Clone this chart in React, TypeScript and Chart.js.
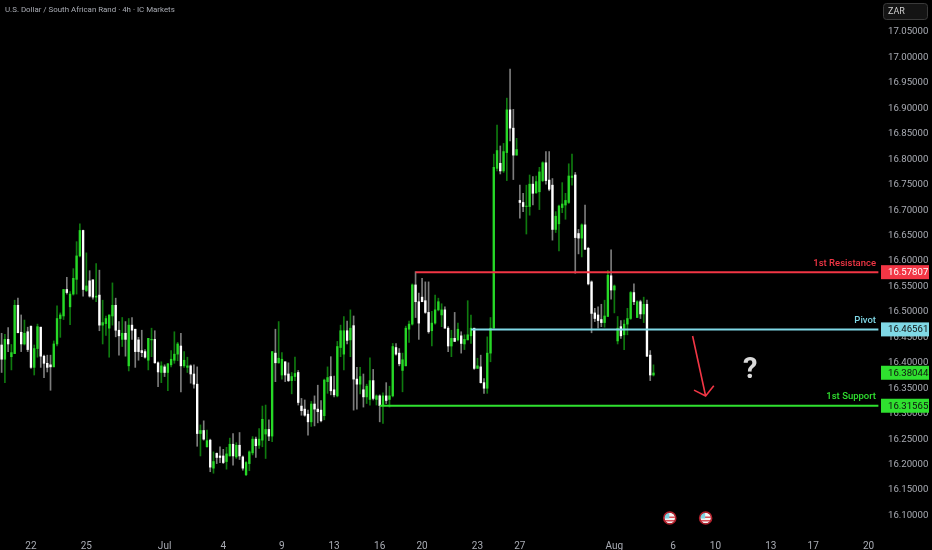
import React, { useEffect, useRef } from "react";
import { Chart, registerables } from "chart.js";

Chart.register(...registerables);

const highs = [
16.458,16.456,16.469,16.436,16.523,16.527,16.494,16.484,16.470,16.472,
16.435,16.476,16.470,16.415,16.415,16.415,16.443,16.512,16.498,16.544,
16.568,16.540,16.585,16.638,16.673,16.661,16.616,16.581,16.563,16.595,
16.582,16.523,16.492,16.494,16.557,16.527,16.481,16.489,16.481,16.487,
16.489,16.466,16.450,16.464,16.426,16.448,16.468,16.463,16.402,16.402,
16.396,16.399,16.424,16.461,16.440,16.458,16.422,16.411,16.396,16.396,
16.392,16.278,16.286,16.268,16.250,16.225,16.223,16.235,16.230,16.234,
16.252,16.261,16.243,16.263,16.217,16.206,16.227,16.255,16.254,16.271,
16.315,16.317,16.288,16.422,16.466,16.481,16.420,16.402,16.400,16.381,
16.411,16.385,16.330,16.327,16.307,16.324,16.335,16.356,16.326,16.368,
16.392,16.412,16.374,16.442,16.474,16.491,16.482,16.504,16.492,16.391,
16.391,16.378,16.358,16.410,16.387,16.337,16.337,16.341,16.361,16.354,
16.438,16.438,16.428,16.419,16.472,16.482,16.555,16.579,16.537,16.566,
16.559,16.559,16.501,16.533,16.527,16.516,16.510,16.471,16.464,16.499,
16.478,16.461,16.455,16.522,16.494,16.468,16.409,16.415,16.369,16.451,
16.489,16.810,16.867,16.826,16.831,16.920,16.977,16.898,16.841,16.749,
16.733,16.749,16.769,16.766,16.767,16.784,16.795,16.815,16.815,16.762,
16.697,16.710,16.754,16.733,16.791,16.810,16.774,16.662,16.673,16.710,
16.627,16.561,16.507,16.510,16.515,16.523,16.581,16.622,16.553,16.491,
16.483,16.484,16.507,16.540,16.555,16.522,16.523,16.529,16.523,16.424,16.396,
];

const opens = [
16.435,16.407,16.446,16.412,16.418,16.513,16.460,16.437,16.461,16.472,
16.391,16.428,16.470,16.413,16.399,16.396,16.392,16.437,16.487,16.492,
16.544,16.510,16.535,16.564,16.610,16.660,16.542,16.561,16.563,16.529,
16.533,16.474,16.477,16.468,16.492,16.513,16.464,16.446,16.458,16.394,
16.474,16.466,16.445,16.424,16.422,16.405,16.445,16.446,16.400,16.381,
16.392,16.381,16.396,16.405,16.417,16.433,16.394,16.391,16.394,16.378,
16.358,16.261,16.267,16.235,16.248,16.193,16.222,16.217,16.217,16.206,
16.217,16.240,16.215,16.238,16.215,16.180,16.202,16.223,16.250,16.238,
16.248,16.260,16.269,16.256,16.419,16.400,16.376,16.402,16.378,16.365,
16.373,16.381,16.315,16.309,16.299,16.284,16.319,16.309,16.307,16.296,
16.363,16.373,16.347,16.335,16.430,16.417,16.463,16.445,16.473,16.368,
16.358,16.347,16.333,16.328,16.365,16.328,16.335,16.316,16.335,16.328,
16.335,16.430,16.419,16.385,16.394,16.466,16.476,16.553,16.520,16.529,
16.522,16.499,16.463,16.478,16.504,16.494,16.504,16.468,16.433,16.448,
16.445,16.453,16.437,16.445,16.453,16.468,16.389,16.392,16.361,16.350,
16.419,16.468,16.782,16.792,16.777,16.813,16.897,16.861,16.808,16.719,
16.715,16.707,16.707,16.751,16.734,16.736,16.758,16.793,16.759,16.749,
16.662,16.673,16.705,16.710,16.715,16.764,16.769,16.654,16.645,16.671,
16.625,16.559,16.498,16.494,16.485,16.479,16.491,16.571,16.543,16.443,
16.471,16.455,16.476,16.487,16.538,16.489,16.520,16.496,16.515,16.415,16.376,
];

const closes = [
16.407,16.446,16.437,16.420,16.513,16.459,16.437,16.458,16.426,16.391,
16.428,16.471,16.413,16.399,16.391,16.392,16.437,16.487,16.494,16.544,
16.538,16.535,16.566,16.610,16.660,16.544,16.551,16.531,16.529,16.531,
16.474,16.479,16.487,16.494,16.513,16.464,16.453,16.458,16.446,16.474,
16.464,16.422,16.422,16.420,16.411,16.448,16.446,16.400,16.382,16.394,
16.381,16.398,16.407,16.417,16.437,16.394,16.405,16.394,16.378,16.358,
16.261,16.267,16.250,16.247,16.195,16.206,16.214,16.214,16.204,16.221,
16.240,16.217,16.238,16.217,16.193,16.204,16.225,16.250,16.237,16.250,
16.289,16.269,16.256,16.422,16.400,16.409,16.407,16.376,16.365,16.373,
16.379,16.322,16.306,16.297,16.284,16.319,16.309,16.304,16.286,16.366,
16.371,16.345,16.337,16.432,16.463,16.463,16.444,16.468,16.368,16.358,
16.373,16.333,16.354,16.365,16.330,16.335,16.316,16.335,16.326,16.335,
16.432,16.417,16.398,16.406,16.468,16.476,16.553,16.520,16.478,16.520,
16.499,16.461,16.478,16.504,16.520,16.504,16.468,16.433,16.448,16.442,
16.466,16.438,16.446,16.455,16.468,16.389,16.394,16.361,16.350,16.419,
16.468,16.784,16.817,16.777,16.815,16.897,16.861,16.808,16.819,16.715,
16.707,16.708,16.751,16.733,16.756,16.775,16.793,16.758,16.741,16.662,
16.688,16.708,16.712,16.719,16.767,16.767,16.646,16.645,16.671,16.623,
16.555,16.497,16.487,16.483,16.479,16.492,16.572,16.543,16.551,16.468,
16.453,16.476,16.487,16.538,16.520,16.520,16.496,16.515,16.413,16.376,16.380,
];

const lows = [
16.381,16.361,16.422,16.386,16.418,16.459,16.422,16.435,16.422,16.389,
16.376,16.411,16.391,16.371,16.382,16.346,16.392,16.433,16.450,16.485,
16.535,16.475,16.533,16.535,16.608,16.531,16.540,16.529,16.525,16.520,
16.463,16.437,16.454,16.411,16.474,16.451,16.415,16.432,16.413,16.384,
16.446,16.391,16.405,16.412,16.409,16.386,16.412,16.399,16.353,16.361,
16.373,16.345,16.392,16.399,16.404,16.343,16.391,16.381,16.360,16.350,
16.236,16.217,16.248,16.234,16.186,16.183,16.202,16.204,16.202,16.191,
16.217,16.199,16.212,16.210,16.189,16.178,16.188,16.219,16.214,16.232,
16.235,16.212,16.247,16.245,16.363,16.399,16.368,16.363,16.363,16.339,
16.365,16.317,16.297,16.295,16.258,16.275,16.276,16.282,16.284,16.288,
16.340,16.337,16.333,16.333,16.412,16.386,16.437,16.412,16.307,16.309,
16.339,16.313,16.320,16.317,16.327,16.317,16.284,16.281,16.320,16.313,
16.333,16.415,16.394,16.343,16.394,16.440,16.474,16.489,16.446,16.520,
16.497,16.458,16.433,16.476,16.502,16.471,16.468,16.422,16.412,16.442,
16.443,16.419,16.426,16.445,16.438,16.387,16.389,16.360,16.340,16.340,
16.402,16.468,16.777,16.771,16.774,16.758,16.836,16.760,16.808,16.684,
16.697,16.653,16.690,16.710,16.733,16.701,16.756,16.751,16.738,16.641,
16.656,16.620,16.695,16.682,16.713,16.749,16.576,16.614,16.608,16.623,
16.553,16.459,16.481,16.468,16.471,16.470,16.491,16.525,16.498,16.437,
16.448,16.426,16.455,16.485,16.514,16.489,16.487,16.479,16.412,16.365,16.374,
];

const slotCount = 270;
const dateTickIndices = [9, 26, 50, 68, 86, 102, 116, 129, 146, 159, 188, 206, 219, 236, 249, 266];
const dateTickLabels = ["22", "25", "Jul", "4", "9", "13", "16", "20", "23", "27", "Aug", "6", "10", "13", "17", "20"];
const monthLabels = ["Jul", "Aug"];

const levelNames = ["1st Resistance", "Pivot", "1st Support"];
const levelPrices = [16.57807, 16.46561, 16.31565];
const levelStarts = [127, 144, 116];
const levelColors = ["#f23645", "#7fd8e6", "#2fe02f"];
const levelTagText = ["#ffffff", "#111111", "#111111"];

const lastPrice = 16.38044;
const arrowFrom = [212, 16.4527];
const arrowTo = [216, 16.3348];
const eventIndices = [205, 216];
const questionAt = [229.7, 16.37];

const TITLE = "U.S. Dollar / South African Rand · 4h · IC Markets";
const FONT = "Roboto, 'Noto Sans', sans-serif";

const labels = Array.from({ length: slotCount }, (_, i) => String(i));
const isUp = (i: number) => closes[i] >= opens[i];

const overlay = {
  id: "overlay",
  afterDraw(chart: any) {
    const { ctx, scales } = chart;
    const x = scales.x;
    const y = scales.y;
    ctx.save();
    ctx.textBaseline = "middle";

    ctx.font = `7.9px ${FONT}`;
    ctx.fillStyle = "#a9acb4";
    ctx.textAlign = "left";
    ctx.fillText(TITLE, 5, 10.5);

    ctx.fillStyle = "#141414";
    ctx.strokeStyle = "#3a3a3a";
    ctx.lineWidth = 1;
    ctx.beginPath();
    ctx.roundRect(883.5, 3.5, 44, 16, 3);
    ctx.fill();
    ctx.stroke();
    ctx.font = `9px ${FONT}`;
    ctx.fillStyle = "#cfcfcf";
    ctx.fillText("ZAR", 888, 11.5);

    const tag = (price: number, bg: string, fg: string) => {
      const py = y.getPixelForValue(price);
      ctx.fillStyle = bg;
      ctx.fillRect(881, py - 7, 48, 14);
      ctx.font = `9.6px ${FONT}`;
      ctx.fillStyle = fg;
      ctx.textAlign = "left";
      ctx.fillText(price.toFixed(5), 888, py + 0.5);
    };

    levelNames.forEach((name, i) => {
      const py = y.getPixelForValue(levelPrices[i]);
      ctx.font = `500 9.5px ${FONT}`;
      ctx.fillStyle = levelColors[i];
      ctx.textAlign = "right";
      ctx.fillText(name, 876, py - 9);
      tag(levelPrices[i], levelColors[i], levelTagText[i]);
    });
    tag(lastPrice, "#2fe02f", "#111111");

    const ax0 = x.getPixelForValue(arrowFrom[0]);
    const ay0 = y.getPixelForValue(arrowFrom[1]);
    const ax1 = x.getPixelForValue(arrowTo[0]);
    const ay1 = y.getPixelForValue(arrowTo[1]);
    const ang = Math.atan2(ay1 - ay0, ax1 - ax0);
    ctx.strokeStyle = "#f23645";
    ctx.lineWidth = 1.6;
    ctx.beginPath();
    ctx.moveTo(ax0, ay0);
    ctx.lineTo(ax1, ay1);
    ctx.moveTo(ax1 + 13 * Math.cos(ang + 2.25), ay1 + 13 * Math.sin(ang + 2.25));
    ctx.lineTo(ax1, ay1);
    ctx.lineTo(ax1 + 13 * Math.cos(ang - 2.25), ay1 + 13 * Math.sin(ang - 2.25));
    ctx.stroke();

    ctx.font = `700 29px ${FONT}`;
    ctx.fillStyle = "#d9d9d9";
    ctx.textAlign = "center";
    ctx.textBaseline = "alphabetic";
    ctx.fillText("?", x.getPixelForValue(questionAt[0]), y.getPixelForValue(questionAt[1]));

    eventIndices.forEach((idx) => {
      const cx = x.getPixelForValue(idx);
      const cy = 518;
      ctx.save();
      ctx.beginPath();
      ctx.arc(cx, cy, 5.5, 0, Math.PI * 2);
      ctx.clip();
      ctx.fillStyle = "#f4f4f4";
      ctx.fillRect(cx - 6, cy - 6, 12, 12);
      ctx.fillStyle = "#d9505a";
      ctx.fillRect(cx - 1, cy - 1.5, 6, 1.5);
      ctx.fillRect(cx - 6, cy + 2, 12, 1.5);
      ctx.fillStyle = "#7fd3e0";
      ctx.fillRect(cx - 6, cy - 6, 5.5, 6.5);
      ctx.restore();
      ctx.strokeStyle = "#b3202c";
      ctx.lineWidth = 1.6;
      ctx.beginPath();
      ctx.arc(cx, cy, 6, 0, Math.PI * 2);
      ctx.stroke();
    });
    ctx.restore();
  },
};

export default function App() {
  const ref = useRef<HTMLCanvasElement>(null);
  useEffect(() => {
    document.body.style.margin = "0";
    document.body.style.background = "#000";
    const levelDatasets = levelNames.map((name, i) => ({
      type: "line" as const,
      label: name,
      data: labels.map((_, k) => (k >= levelStarts[i] ? levelPrices[i] : null)),
      borderColor: levelColors[i],
      borderWidth: 2,
      pointRadius: 0,
      order: 0,
    }));
    const chart = new Chart(ref.current!, {
      type: "bar",
      data: {
        labels,
        datasets: [
          ...levelDatasets,
          {
            label: "Body",
            data: opens.map((o, i) => [Math.min(o, closes[i]), Math.max(o, closes[i])]),
            backgroundColor: opens.map((_, i) => (isUp(i) ? "#27d827" : "#ffffff")),
            barThickness: 1.7,
            grouped: false,
            order: 1,
          },
          {
            label: "Wick",
            data: highs.map((h, i) => [lows[i], h]),
            backgroundColor: highs.map((_, i) => (isUp(i) ? "#0f7a0f" : "#7c7c7c")),
            barThickness: 1,
            grouped: false,
            order: 2,
          },
        ] as any,
      },
      options: {
        animation: false,
        responsive: false,
        devicePixelRatio: 1,
        layout: { padding: 0 },
        plugins: { legend: { display: false }, tooltip: { enabled: false } },
        scales: {
          x: {
            grid: { display: false },
            border: { display: false },
            afterFit: (s: any) => {
              s.height = 20;
              s.paddingLeft = 0;
              s.paddingRight = 0;
              s.paddingTop = 0;
              s.paddingBottom = 0;
            },
            ticks: {
              autoSkip: false,
              maxRotation: 0,
              padding: 2,
              callback: (_: any, i: number) => {
                const k = dateTickIndices.indexOf(i);
                return k >= 0 ? dateTickLabels[k] : null;
              },
              font: (c: any) => {
                const k = dateTickIndices.indexOf(c.index);
                const month = k >= 0 && monthLabels.includes(dateTickLabels[k]);
                return { family: FONT, size: 10, weight: month ? "bold" : "normal" };
              },
              color: (c: any) => {
                const k = dateTickIndices.indexOf(c.index);
                return k >= 0 && monthLabels.includes(dateTickLabels[k]) ? "#d6d6d6" : "#a9acb4";
              },
            },
          },
          y: {
            position: "right",
            min: 16.0715,
            max: 17.1128,
            grid: { display: false, drawTicks: false },
            border: { display: false },
            afterFit: (s: any) => {
              s.width = 52;
              s.paddingLeft = 0;
              s.paddingRight = 0;
              s.paddingTop = 0;
              s.paddingBottom = 0;
            },
            ticks: {
              stepSize: 0.05,
              includeBounds: false,
              padding: 8,
              crossAlign: "near",
              autoSkip: false,
              font: { family: FONT, size: 9.6 },
              color: "#a9acb4",
              callback: (v: any) => (Number(v) > 17.06 ? null : Number(v).toFixed(5)),
            },
          },
        },
      },
      plugins: [overlay],
    } as any);
    return () => chart.destroy();
  }, []);
  return (
    <canvas
      ref={ref}
      width={932}
      height={550}
      style={{ display: "block", background: "#000", width: 932, height: 550 }}
    />
  );
}
